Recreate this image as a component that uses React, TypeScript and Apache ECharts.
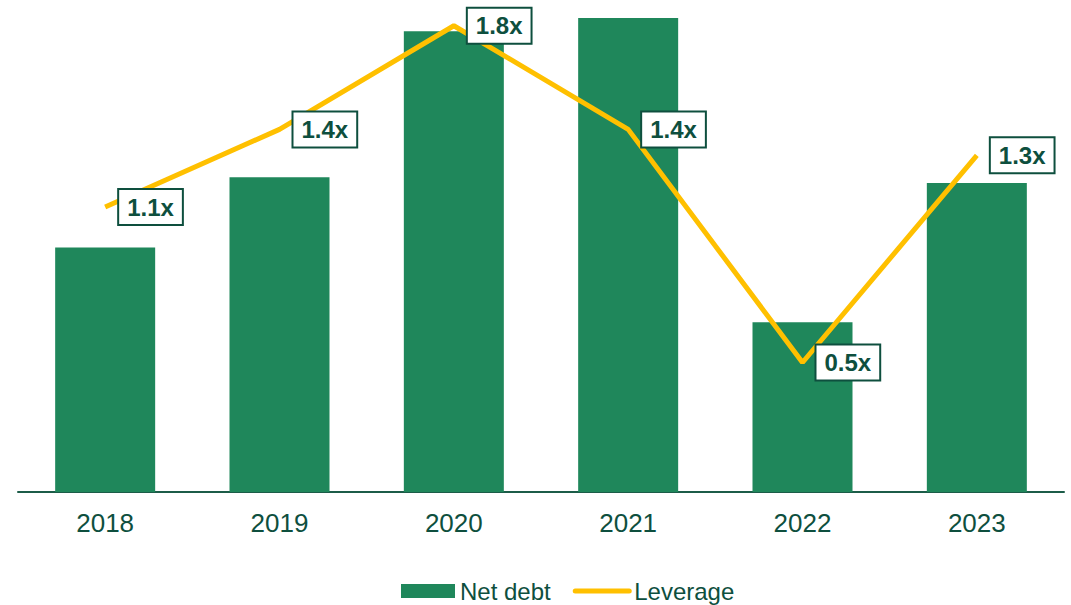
import React, { useEffect, useRef } from "react";
import * as echarts from "echarts";

const years = ["2018", "2019", "2020", "2021", "2022", "2023"];
const netDebt = [2.58, 3.32, 4.86, 5.0, 1.79, 3.26];
const leverage = [1.1, 1.4, 1.8, 1.4, 0.5, 1.3];

const DARK = "#0E4F3E";
const GREEN = "#1F875B";
const GOLD = "#FFC000";

export default function App() {
  const ref = useRef<HTMLDivElement>(null);
  useEffect(() => {
    if (!ref.current) return;
    const chart = echarts.init(ref.current, undefined, { renderer: "svg" });
    chart.setOption({
      animation: false,
      grid: { left: 18, right: 7, top: 18, bottom: 113 },
      legend: {
        bottom: -3,
        left: 396,
        itemWidth: 54,
        itemHeight: 14,
        itemGap: 22,
        textStyle: { color: DARK, fontSize: 24, fontFamily: "Liberation Sans, Arial" },
        data: [
          { name: "Net debt", icon: "rect" },
          {
            name: "Leverage",
            itemStyle: { color: "rgba(0,0,0,0)", borderWidth: 0 },
            lineStyle: { color: GOLD, width: 5, cap: "round" },
          },
        ],
      },
      xAxis: {
        type: "category",
        data: years,
        axisLine: { lineStyle: { color: "#1C5C48", width: 2 } },
        axisTick: { show: false },
        axisLabel: {
          color: DARK,
          fontSize: 26,
          margin: 18,
          fontFamily: "Liberation Sans, Arial",
        },
      },
      yAxis: [
        { type: "value", min: 0, max: 5.0, show: false, splitLine: { show: false } },
        { type: "value", min: 0, max: 1.83, show: false, splitLine: { show: false } },
      ],
      series: [
        {
          name: "Net debt",
          type: "bar",
          data: netDebt,
          barWidth: 100,
          itemStyle: { color: GREEN },
          yAxisIndex: 0,
        },
        {
          name: "Leverage",
          type: "line",
          data: leverage,
          yAxisIndex: 1,
          symbol: "circle",
          symbolSize: 0,
          showSymbol: true,
          lineStyle: { color: GOLD, width: 5 },
          itemStyle: { color: GOLD },
          label: {
            show: true,
            position: "right",
            distance: 14,
            formatter: (p: any) => p.value.toFixed(1) + "x",
            color: DARK,
            fontWeight: "bold",
            fontSize: 24,
            fontFamily: "Liberation Sans, Arial",
            backgroundColor: "#fff",
            borderColor: "#0E4F3E",
            borderWidth: 2,
            padding: [6, 8, 4, 8],
          },
        },
      ],
    });
    return () => chart.dispose();
  }, []);
  return <div ref={ref} style={{ width: 1071, height: 605, position: "absolute", left: 0, top: 0 }} />;
}
